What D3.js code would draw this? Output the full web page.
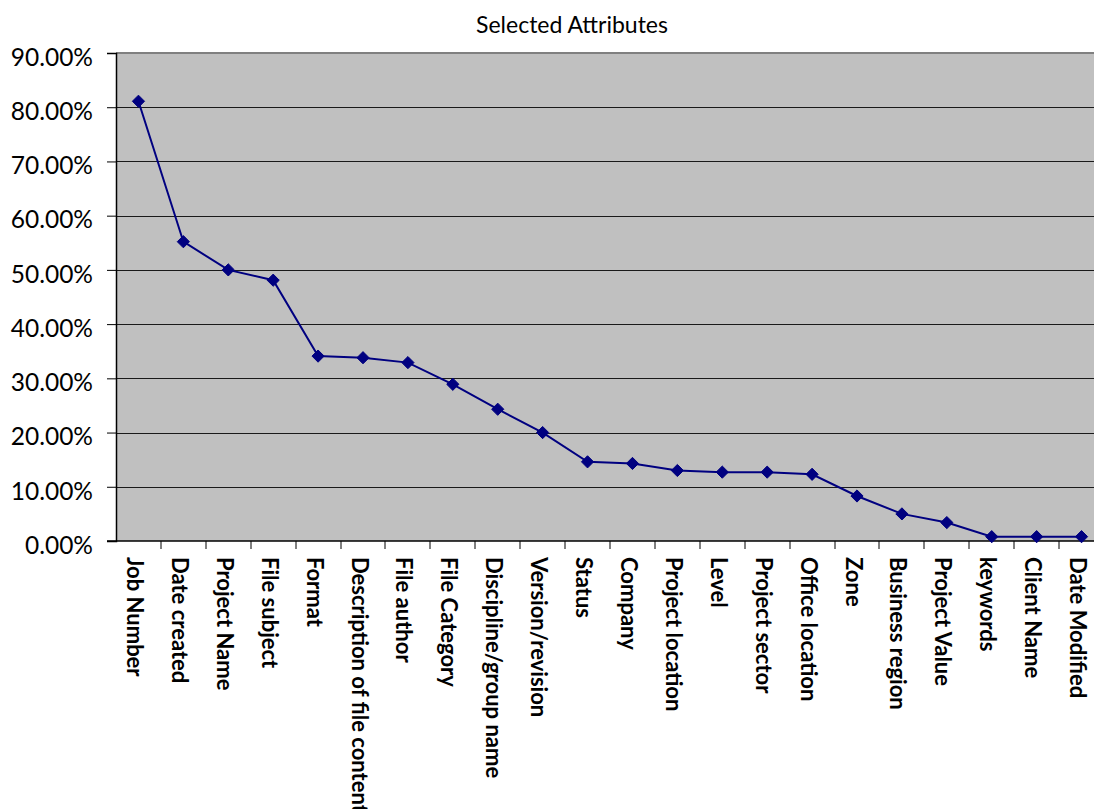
<!DOCTYPE html>
<html>
<head>
<meta charset="utf-8">
<script src="https://cdn.jsdelivr.net/npm/d3@7"></script>
<style>
  html, body { margin: 0; padding: 0; background: #ffffff; overflow: hidden; }
  svg { display: block; }
  text { font-family: Lato, "Open Sans", sans-serif; fill: #000; }
</style>
</head>
<body>
<svg id="chart" width="1094" height="809"></svg>
<script>
// Share of respondents selecting each attribute
const attributes = [
  "Job Number", "Date created", "Project Name", "File subject", "Format",
  "Description of file content", "File author", "File Category",
  "Discipline/group name", "Version/revision", "Status", "Company",
  "Project location", "Level", "Project sector", "Office location", "Zone",
  "Business region", "Project Value", "keywords", "Client Name", "Date Modified"
];
const shares = [
  0.811, 0.552, 0.500, 0.481, 0.341,
  0.338, 0.329, 0.289,
  0.243, 0.200, 0.146, 0.143,
  0.130, 0.127, 0.127, 0.123, 0.083,
  0.050, 0.034, 0.008, 0.008, 0.008
];
const yTicks = [0, 0.1, 0.2, 0.3, 0.4, 0.5, 0.6, 0.7, 0.8, 0.9];
const chartTitle = "Selected Attributes";

const svg = d3.select("#chart");
const plot = { left: 116, right: 1104, top: 53, bottom: 541 };

const x = d3.scaleBand().domain(attributes).range([plot.left, plot.right]).padding(0);
const y = d3.scaleLinear().domain([0, 0.9]).range([plot.bottom, plot.top]);

// plot background
svg.append("rect")
  .attr("x", plot.left).attr("y", plot.top)
  .attr("width", plot.right - plot.left).attr("height", plot.bottom - plot.top)
  .attr("fill", "#c0c0c0");

// horizontal gridlines
svg.append("g").selectAll("line").data(yTicks.slice(1, -1)).join("line")
  .attr("x1", plot.left).attr("x2", plot.right)
  .attr("y1", d => Math.round(y(d)) + 0.5).attr("y2", d => Math.round(y(d)) + 0.5)
  .attr("stroke", "#1a1a1a").attr("stroke-width", 1);

// top border of plot area
svg.append("line")
  .attr("x1", plot.left).attr("x2", plot.right)
  .attr("y1", plot.top).attr("y2", plot.top)
  .attr("stroke", "#808080").attr("stroke-width", 2);

// y axis
const yAxis = d3.axisLeft(y).tickValues(yTicks).tickSize(9).tickPadding(14)
  .tickFormat(d => (d * 100).toFixed(2) + "%");
const gy = svg.append("g").attr("transform", `translate(${plot.left},0)`).call(yAxis);
gy.select(".domain").attr("stroke", "#000").attr("stroke-width", 1.5);
gy.selectAll(".tick line").attr("stroke", "#000");
gy.selectAll(".tick text")
  .attr("font-family", "Lato, sans-serif")
  .attr("font-size", 24.5)
  .attr("dy", "0.5em")
  .attr("fill", "#000");

// x axis with category boundary ticks
const gx = svg.append("g").attr("transform", `translate(0,${plot.bottom})`);
gx.append("line")
  .attr("x1", plot.left - 9).attr("x2", plot.right)
  .attr("y1", 0).attr("y2", 0)
  .attr("stroke", "#000").attr("stroke-width", 1.5);
gx.selectAll("line.tick").data(attributes).join("line")
  .attr("class", "tick")
  .attr("x1", d => Math.round(x(d) + x.bandwidth())).attr("x2", d => Math.round(x(d) + x.bandwidth()))
  .attr("y1", 0).attr("y2", 8)
  .attr("stroke", "#000");

// rotated category labels (the longest one runs off the bottom edge)
gx.selectAll("text.cat").data(attributes).join("text")
  .attr("class", "cat")
  .attr("transform", d => `translate(${x(d) + x.bandwidth() / 2 - 11.5},16) rotate(90)`)
  .attr("text-anchor", "start")
  .attr("font-weight", "bold")
  .attr("font-size", 22)
  .text(d => d);

// series line and markers
const cx = d => x(d) + x.bandwidth() / 2;
const line = d3.line().x(d => cx(d.k)).y(d => y(d.v));
const pts = attributes.map((k, i) => ({ k, v: shares[i] }));

svg.append("path")
  .datum(pts)
  .attr("d", line)
  .attr("fill", "none")
  .attr("stroke", "#000080")
  .attr("stroke-width", 2);

svg.append("g").selectAll("path").data(pts).join("path")
  .attr("transform", d => `translate(${cx(d.k)},${y(d.v)})`)
  .attr("d", d3.symbol().type(d3.symbolDiamond2).size(95))
  .attr("fill", "#000080")
  .attr("stroke", "#000080")
  .attr("stroke-width", 1);

// title
svg.append("text")
  .attr("x", 572).attr("y", 33)
  .attr("text-anchor", "middle")
  .attr("font-size", 23)
  .text(chartTitle);
</script>
</body>
</html>
